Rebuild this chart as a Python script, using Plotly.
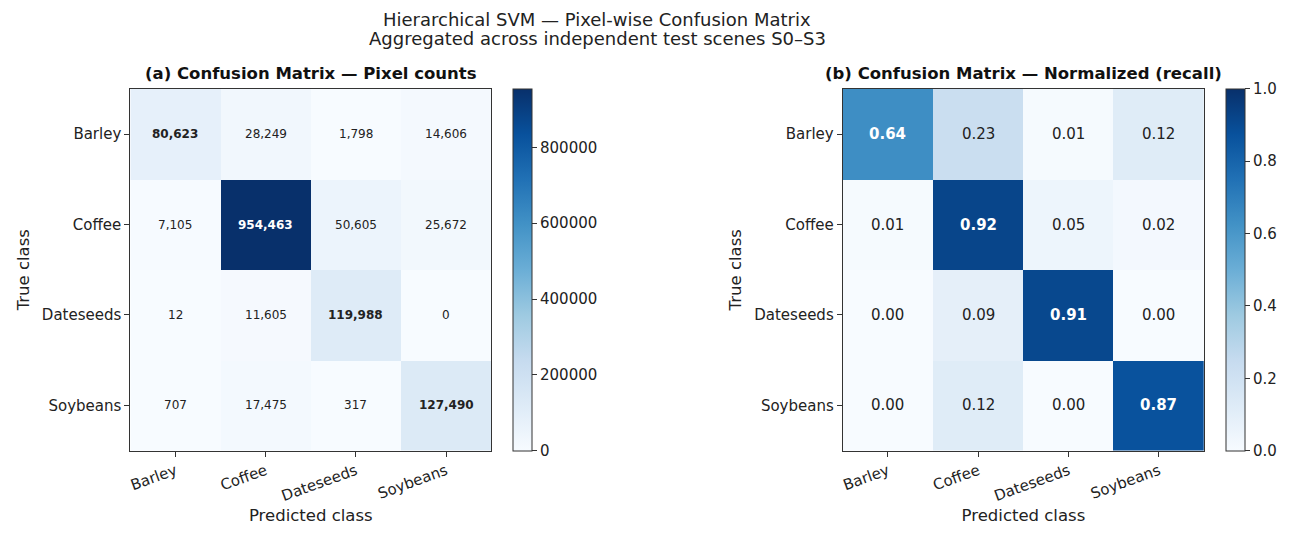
import plotly.graph_objects as go

classes = ['Barley', 'Coffee', 'Dateseeds', 'Soybeans']

# pixel counts, rows = true class, cols = predicted class
counts = [
    [80623, 28249, 1798, 14606],
    [7105, 954463, 50605, 25672],
    [12, 11605, 119988, 0],
    [707, 17475, 317, 127490],
]

# normalized by row (recall), as printed
recall = [
    [0.64, 0.23, 0.01, 0.12],
    [0.01, 0.92, 0.05, 0.02],
    [0.00, 0.09, 0.91, 0.00],
    [0.00, 0.12, 0.00, 0.87],
]

count_ticks = [0, 200000, 400000, 600000, 800000]
recall_ticks = [0.0, 0.2, 0.4, 0.6, 0.8, 1.0]

blues = ['rgb(247,251,255)', 'rgb(222,235,247)', 'rgb(198,219,239)',
         'rgb(158,202,225)', 'rgb(107,174,214)', 'rgb(66,146,198)',
         'rgb(33,113,181)', 'rgb(8,81,156)', 'rgb(8,48,107)']
cscale = [[i / 8, c] for i, c in enumerate(blues)]

FONT = 'DejaVu Sans'
W, H = 1303, 537
OFF = 8  # page body margin

def px_x(v):
    return (v - OFF) / W

def px_y(v):
    return 1 - (v - OFF) / H

y_dom = [px_y(450.5), px_y(89)]
cb_len = (450.5 - 89) / H
cb_mid = (y_dom[0] + y_dom[1]) / 2

tickfont = dict(family=FONT, size=15, color='#222')

fig = go.Figure()

fig.add_trace(go.Heatmap(
    z=counts, x=classes, y=classes, xaxis='x', yaxis='y',
    colorscale=cscale, zmin=0, zmax=max(max(r) for r in counts),
    hoverinfo='skip',
    colorbar=dict(x=px_x(512), xanchor='left', xpad=0, ypad=0,
                  y=cb_mid, yanchor='middle', len=cb_len, lenmode='fraction',
                  thickness=19, outlinewidth=1, outlinecolor='#333',
                  tickvals=count_ticks, ticktext=[str(t) for t in count_ticks],
                  ticks='outside', ticklen=5, tickcolor='#333',
                  tickfont=tickfont),
))

fig.add_trace(go.Heatmap(
    z=recall, x=classes, y=classes, xaxis='x2', yaxis='y2',
    colorscale=cscale, zmin=0, zmax=1,
    hoverinfo='skip',
    colorbar=dict(x=px_x(1226), xanchor='left', xpad=0, ypad=0,
                  y=cb_mid, yanchor='middle', len=cb_len, lenmode='fraction',
                  thickness=19, outlinewidth=1, outlinecolor='#333',
                  tickvals=recall_ticks, ticktext=['%.1f' % t for t in recall_ticks],
                  ticks='outside', ticklen=5, tickcolor='#333',
                  tickfont=tickfont),
))

annotations = []
cmax = max(max(r) for r in counts)
for i, tc in enumerate(classes):
    for j, pc in enumerate(classes):
        v = counts[i][j]
        txt = f'{v:,}'
        if i == j:
            txt = '<b>' + txt + '</b>'
        annotations.append(dict(
            x=pc, y=tc, xref='x', yref='y', text=txt, showarrow=False,
            font=dict(family=FONT, size=12,
                      color='white' if v > cmax / 2 else '#222')))
        r = recall[i][j]
        txt = f'{r:.2f}'
        if i == j:
            txt = '<b>' + txt + '</b>'
        annotations.append(dict(
            x=pc, y=tc, xref='x2', yref='y2', text=txt, showarrow=False,
            font=dict(family=FONT, size=15,
                      color='white' if r > 0.5 else '#222')))

annotations += [
    dict(x=px_x(596), y=px_y(19.5), xref='paper', yref='paper',
         text='Hierarchical SVM — Pixel-wise Confusion Matrix',
         showarrow=False, font=dict(family=FONT, size=18, color='#222'),
         xanchor='center', yanchor='middle'),
    dict(x=px_x(596), y=px_y(39), xref='paper', yref='paper',
         text='Aggregated across independent test scenes S0–S3',
         showarrow=False, font=dict(family=FONT, size=18, color='#222'),
         xanchor='center', yanchor='middle'),
    dict(x=px_x(309), y=px_y(74), xref='paper', yref='paper',
         text='<b>(a) Confusion Matrix — Pixel counts</b>', showarrow=False,
         font=dict(family=FONT, size=16.5, color='#111'),
         xanchor='center', yanchor='middle'),
    dict(x=px_x(1023), y=px_y(74), xref='paper', yref='paper',
         text='<b>(b) Confusion Matrix — Normalized (recall)</b>', showarrow=False,
         font=dict(family=FONT, size=16.5, color='#111'),
         xanchor='center', yanchor='middle'),
]

axis_common = dict(type='category', showline=True, linecolor='#333', linewidth=1,
                   mirror=True, ticks='outside', ticklen=5, tickcolor='#333',
                   showgrid=False, zeroline=False, tickfont=tickfont)

xcommon = dict(axis_common, tickangle=-20,
               title=dict(text='Predicted class', standoff=5,
                          font=dict(family=FONT, size=16.5, color='#222')))
ycommon = dict(axis_common, autorange='reversed',
               title=dict(text='True class', standoff=8,
                          font=dict(family=FONT, size=16.5, color='#222')))

fig.update_layout(
    width=W, height=H,
    margin=dict(l=0, r=0, t=0, b=0),
    paper_bgcolor='white', plot_bgcolor='white',
    showlegend=False,
    xaxis=dict(xcommon, domain=[px_x(128.5), px_x(490)], anchor='y'),
    yaxis=dict(ycommon, domain=y_dom, anchor='x'),
    xaxis2=dict(xcommon, domain=[px_x(842), px_x(1204)], anchor='y2'),
    yaxis2=dict(ycommon, domain=y_dom, anchor='x2'),
    annotations=annotations,
)

fig.write_html('out.html')
